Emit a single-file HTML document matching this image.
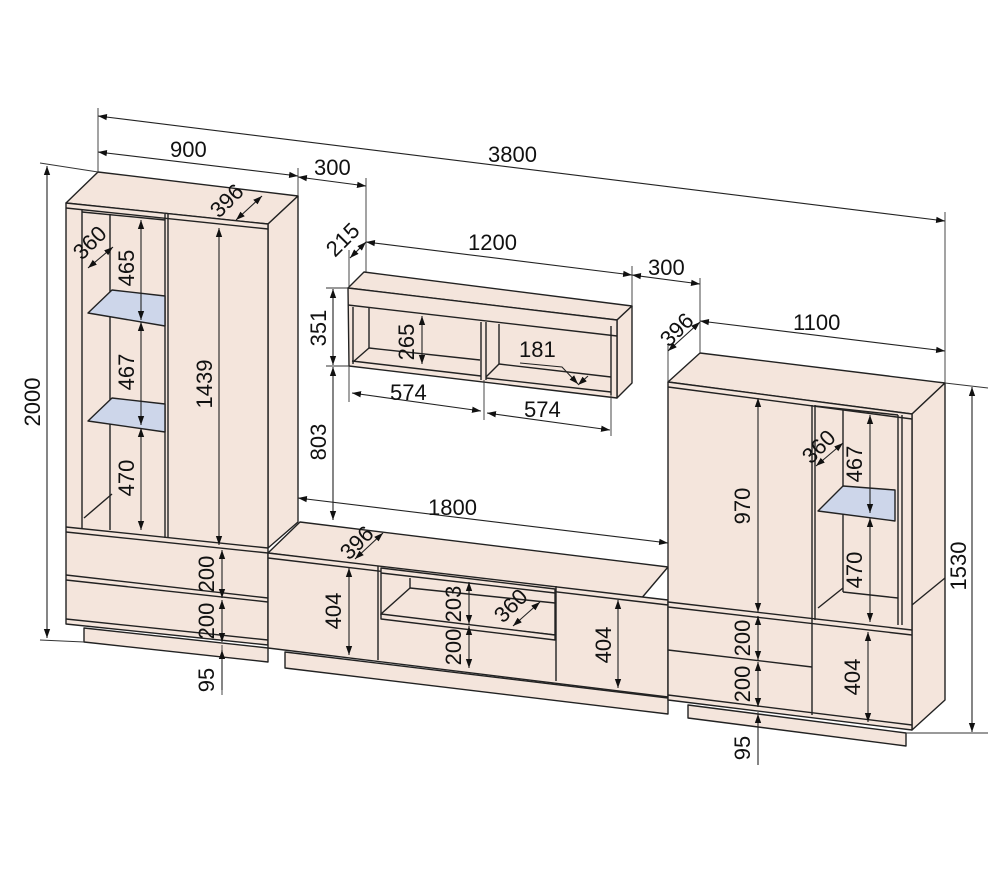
<!DOCTYPE html>
<html><head><meta charset="utf-8"><style>html,body{margin:0;padding:0;background:#fff}svg{display:block}text{font-family:"Liberation Sans",sans-serif;font-size:22px;fill:#111}</style></head>
<body>
<svg width="1000" height="870" viewBox="0 0 1000 870" xmlns="http://www.w3.org/2000/svg">
<defs>
<marker id="a" viewBox="0 0 10 10" refX="10" refY="5" markerWidth="9" markerHeight="9" orient="auto-start-reverse" markerUnits="userSpaceOnUse"><path d="M0,1.5 L10,5 L0,8.5z" fill="#111"/></marker>
</defs>
<g stroke="#222" stroke-width="1.4" fill="#f4e5dc" stroke-linejoin="round">
<polygon points="84,628 268,648 268,662 84,642"/>
<polygon points="66,203 98,172 298,196 268,224"/>
<polygon points="268,224 298,196 298,522 268,548"/>
<polygon points="66,203 268,224 268,645 66,624"/>
<line x1="66" y1="208" x2="268" y2="229"/>
<line x1="66" y1="527" x2="268" y2="548"/>
<line x1="66" y1="532" x2="268" y2="553"/>
<line x1="66" y1="575" x2="268" y2="598"/>
<line x1="66" y1="580" x2="268" y2="602"/>
<line x1="66" y1="619" x2="268" y2="640"/>
<line x1="168" y1="214" x2="168" y2="538"/>
<line x1="165" y1="214" x2="165" y2="538"/>
<line x1="82" y1="210" x2="82" y2="528"/>
<line x1="110" y1="214" x2="110" y2="530"/>
<line x1="82" y1="212" x2="165" y2="220"/>
<polygon points="88,313 112,290 165,296 165,326" fill="#cdd6ea"/>
<polygon points="88,421 112,398 165,404 165,432" fill="#cdd6ea"/>
<line x1="84" y1="518" x2="112" y2="494"/>
<polygon points="285,652 668,698 668,714 285,668"/>
<polygon points="268,553 300,522 668,567 640,600"/>
<polygon points="268,553 668,600 668,697 268,648"/>
<line x1="268" y1="558" x2="668" y2="605"/>
<line x1="378" y1="566" x2="378" y2="660"/>
<line x1="556" y1="586" x2="556" y2="681"/>
<polygon points="381,568 555,589 555,635 381,615"/>
<polygon points="381,614 555,635 555,640 381,619"/>
<line x1="381" y1="614" x2="410" y2="588"/>
<line x1="410" y1="578" x2="410" y2="588"/>
<line x1="410" y1="588" x2="555" y2="603"/>
<line x1="381" y1="573" x2="555" y2="593"/>
<polygon points="688,705 906,733 906,746 688,718"/>
<polygon points="668,382 700,353 945,383 912,414"/>
<polygon points="912,414 945,383 945,700 912,730"/>
<polygon points="668,382 912,414 912,730 668,700"/>
<line x1="668" y1="387" x2="912" y2="419"/>
<line x1="668" y1="602" x2="912" y2="630"/>
<line x1="668" y1="607" x2="912" y2="635"/>
<line x1="668" y1="650" x2="812" y2="667"/>
<line x1="668" y1="695" x2="912" y2="725"/>
<line x1="812" y1="405" x2="812" y2="715"/>
<line x1="815" y1="405" x2="815" y2="620"/>
<line x1="898" y1="415" x2="898" y2="625"/>
<line x1="902" y1="415" x2="902" y2="625"/>
<line x1="843" y1="410" x2="843" y2="592"/>
<line x1="815" y1="406" x2="898" y2="415"/>
<polygon points="818,511 843,486 895,490 895,521" fill="#cdd6ea"/>
<line x1="818" y1="608" x2="843" y2="588"/>
<line x1="843" y1="592" x2="898" y2="598"/>
<line x1="912" y1="605" x2="945" y2="578"/>
<polygon points="348,288 364,272 632,306 617,320"/>
<polygon points="617,320 632,306 632,383 617,398"/>
<polygon points="348,288 617,320 617,398 349,366"/>
<line x1="348" y1="305" x2="617" y2="336"/>
<line x1="353" y1="307" x2="353" y2="364"/>
<line x1="369" y1="307" x2="369" y2="348"/>
<line x1="369" y1="348" x2="353" y2="362"/>
<line x1="369" y1="348" x2="480" y2="360"/>
<line x1="352" y1="361" x2="481" y2="376"/>
<line x1="481" y1="322" x2="481" y2="380"/>
<line x1="486" y1="322" x2="486" y2="380"/>
<line x1="499" y1="324" x2="499" y2="364"/>
<line x1="499" y1="364" x2="486" y2="377"/>
<line x1="499" y1="364" x2="611" y2="377"/>
<line x1="486" y1="378" x2="611" y2="392"/>
<line x1="611" y1="326" x2="611" y2="395"/>
</g>
<g stroke="#333" stroke-width="0.9" fill="none">
<line x1="98" y1="108" x2="98" y2="172"/>
<line x1="945" y1="212" x2="945" y2="383"/>
<line x1="298" y1="168" x2="298" y2="196"/>
<line x1="366" y1="178" x2="366" y2="272"/>
<line x1="349" y1="250" x2="349" y2="288"/>
<line x1="632" y1="266" x2="632" y2="306"/>
<line x1="700" y1="278" x2="700" y2="353"/>
<line x1="668" y1="345" x2="668" y2="382"/>
<line x1="40" y1="163" x2="98" y2="172"/>
<line x1="40" y1="640" x2="84" y2="642"/>
<line x1="945" y1="383" x2="988" y2="388"/>
<line x1="906" y1="733" x2="988" y2="733"/>
<line x1="326" y1="288" x2="348" y2="288"/>
<line x1="326" y1="366" x2="349" y2="366"/>
<line x1="298" y1="490" x2="298" y2="522"/>
<line x1="668" y1="530" x2="668" y2="567"/>
<line x1="349" y1="366" x2="349" y2="402"/>
<line x1="484" y1="380" x2="484" y2="420"/>
<line x1="611" y1="395" x2="611" y2="436"/>
<line x1="222" y1="645" x2="222" y2="695"/>
<line x1="758" y1="712" x2="758" y2="765"/>
</g>
<g stroke="#222" stroke-width="1.1" fill="none" marker-start="url(#a)" marker-end="url(#a)">
<line x1="98" y1="116" x2="945" y2="221"/>
<line x1="98" y1="152" x2="298" y2="176"/>
<line x1="298" y1="177" x2="366" y2="186"/>
<line x1="366" y1="242" x2="632" y2="275"/>
<line x1="632" y1="275" x2="700" y2="284"/>
<line x1="700" y1="321" x2="945" y2="351"/>
<line x1="350" y1="258" x2="366" y2="242"/>
<line x1="668" y1="351" x2="700" y2="322"/>
<line x1="47" y1="166" x2="47" y2="638"/>
<line x1="972" y1="387" x2="972" y2="732"/>
<line x1="333" y1="289" x2="333" y2="365"/>
<line x1="333" y1="367" x2="333" y2="520"/>
<line x1="298" y1="498" x2="668" y2="543"/>
<line x1="352" y1="393" x2="481" y2="411"/>
<line x1="487" y1="413" x2="610" y2="430"/>
<line x1="422" y1="316" x2="422" y2="364"/>
<line x1="88" y1="268" x2="113" y2="247"/>
<line x1="141" y1="220" x2="141" y2="320"/>
<line x1="141" y1="322" x2="141" y2="425"/>
<line x1="141" y1="428" x2="141" y2="530"/>
<line x1="219" y1="228" x2="219" y2="545"/>
<line x1="236" y1="220" x2="262" y2="196"/>
<line x1="222" y1="550" x2="222" y2="598"/>
<line x1="222" y1="600" x2="222" y2="642"/>
<line x1="355" y1="559" x2="383" y2="533"/>
<line x1="349" y1="568" x2="349" y2="655"/>
<line x1="469" y1="582" x2="469" y2="624"/>
<line x1="469" y1="626" x2="469" y2="668"/>
<line x1="513" y1="626" x2="540" y2="602"/>
<line x1="618" y1="600" x2="618" y2="688"/>
<line x1="758" y1="398" x2="758" y2="612"/>
<line x1="816" y1="466" x2="843" y2="443"/>
<line x1="870" y1="415" x2="870" y2="513"/>
<line x1="870" y1="518" x2="870" y2="622"/>
<line x1="758" y1="616" x2="758" y2="660"/>
<line x1="758" y1="662" x2="758" y2="707"/>
<line x1="868" y1="632" x2="868" y2="722"/>
</g>
<g stroke="#222" stroke-width="1.1" fill="none">
<line x1="222" y1="690" x2="222" y2="650" marker-end="url(#a)"/>
<line x1="758" y1="765" x2="758" y2="714" marker-end="url(#a)"/>
<polyline points="520,363 562,367 578,384" marker-end="url(#a)"/>
<line x1="588" y1="376" x2="578" y2="385" marker-end="url(#a)"/>
</g>
<text x="170" y="157">900</text>
<text x="488" y="162">3800</text>
<text x="314" y="175">300</text>
<text x="468" y="250">1200</text>
<text x="648" y="275">300</text>
<text x="793" y="330">1100</text>
<text x="428" y="515">1800</text>
<text x="390" y="400">574</text>
<text x="524" y="417">574</text>
<text x="519" y="357">181</text>
<g text-anchor="middle">
<text transform="translate(40,402) rotate(-90)">2000</text>
<text transform="translate(966,566) rotate(-90)">1530</text>
<text transform="translate(326,328) rotate(-90)">351</text>
<text transform="translate(326,442) rotate(-90)">803</text>
<text transform="translate(414,342) rotate(-90)">265</text>
<text transform="translate(134,268) rotate(-90)">465</text>
<text transform="translate(134,372) rotate(-90)">467</text>
<text transform="translate(134,478) rotate(-90)">470</text>
<text transform="translate(212,384) rotate(-90)">1439</text>
<text transform="translate(214,574) rotate(-90)">200</text>
<text transform="translate(214,621) rotate(-90)">200</text>
<text transform="translate(214,680) rotate(-90)">95</text>
<text transform="translate(341,611) rotate(-90)">404</text>
<text transform="translate(461,604) rotate(-90)">203</text>
<text transform="translate(461,647) rotate(-90)">200</text>
<text transform="translate(611,645) rotate(-90)">404</text>
<text transform="translate(750,506) rotate(-90)">970</text>
<text transform="translate(862,464) rotate(-90)">467</text>
<text transform="translate(862,570) rotate(-90)">470</text>
<text transform="translate(750,638) rotate(-90)">200</text>
<text transform="translate(750,684) rotate(-90)">200</text>
<text transform="translate(860,677) rotate(-90)">404</text>
<text transform="translate(750,748) rotate(-90)">95</text>
<text transform="translate(348,245) rotate(-45)">215</text>
<text transform="translate(95,248) rotate(-45)">360</text>
<text transform="translate(232,206) rotate(-45)">396</text>
<text transform="translate(362,548) rotate(-45)">396</text>
<text transform="translate(516,611) rotate(-45)">360</text>
<text transform="translate(682,335) rotate(-45)">396</text>
<text transform="translate(824,452) rotate(-45)">360</text>
</g>
</svg>
</body></html>
